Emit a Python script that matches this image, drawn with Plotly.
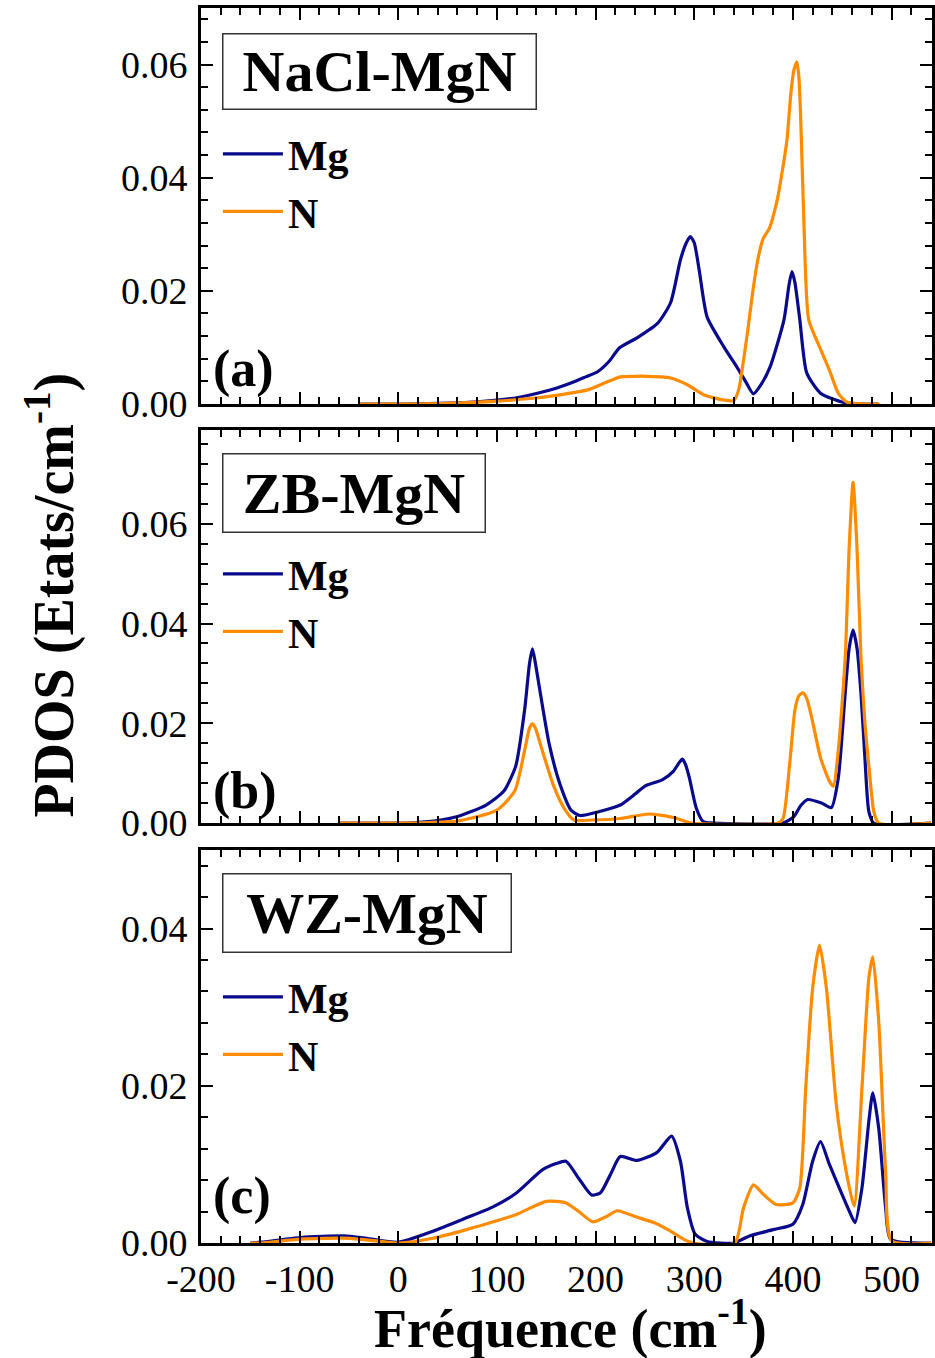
import plotly.graph_objects as go

# ---------------- data ----------------
# Panel (a) NaCl-MgN
a_mg_x = [-40, 0, 40, 80, 100, 120, 141, 160, 175, 190, 202, 214, 224, 242, 263, 276, 286, 292, 296, 300, 305, 313, 330, 343, 352, 360, 368, 377, 391, 396, 399, 402, 407, 414, 428, 451, 470, 487]
a_mg_y = [0, 0, 0.0001, 0.0004, 0.0007, 0.0011, 0.0019, 0.0028, 0.0037, 0.0048, 0.0057, 0.0076, 0.0099, 0.0117, 0.0143, 0.0179, 0.0255, 0.0285, 0.0296, 0.0285, 0.0237, 0.0154, 0.0101, 0.0066, 0.0040, 0.0018, 0.0035, 0.0066, 0.0149, 0.0210, 0.0234, 0.0215, 0.0149, 0.0055, 0.0019, 0.0003, 0, 0]
a_n_x = [-40, 0, 50, 100, 141, 170, 192, 209, 225, 240, 252, 265, 276, 293, 310, 330, 340, 345, 350, 355, 360, 365, 370, 376, 384, 390, 394, 398, 401, 404, 406, 408, 411, 416, 427, 437, 446, 455, 470, 488]
a_n_y = [0, 0, 0.0001, 0.0005, 0.0011, 0.0018, 0.0025, 0.0037, 0.0048, 0.0049, 0.0049, 0.0048, 0.0046, 0.0034, 0.0016, 0.0007, 0.0006, 0.0025, 0.0078, 0.0140, 0.0207, 0.0260, 0.0293, 0.0310, 0.0360, 0.0420, 0.0467, 0.0550, 0.0590, 0.0605, 0.0580, 0.0500, 0.0330, 0.0149, 0.0101, 0.0060, 0.0019, 0.0003, 0, 0]

# Panel (b) ZB-MgN
b_mg_x = [-60, 0, 17, 40, 60, 89, 107, 119, 128, 133, 136, 139, 144, 153, 164, 175, 184, 204, 225, 240, 250, 268, 279, 285, 288, 291, 295, 302, 309, 320, 390, 401, 408, 415, 429, 439, 446, 453, 457, 461, 465, 469, 473, 477, 482, 540]
b_mg_y = [0, 0, 0.0001, 0.0005, 0.0013, 0.0036, 0.0064, 0.0114, 0.0226, 0.0320, 0.0349, 0.0320, 0.0260, 0.0158, 0.0077, 0.0026, 0.0015, 0.0023, 0.0036, 0.0058, 0.0074, 0.0087, 0.0104, 0.0122, 0.0128, 0.0118, 0.0091, 0.0030, 0.0003, 0, 0, 0.0013, 0.0035, 0.0047, 0.0040, 0.0031, 0.0090, 0.0260, 0.0350, 0.0387, 0.0350, 0.0260, 0.0130, 0.0023, 0, 0]
b_n_x = [-60, 0, 30, 60, 100, 118, 128, 133, 136, 139, 146, 157, 168, 178, 196, 225, 254, 279, 290, 297, 385, 390, 397, 402, 406, 410, 414, 419, 428, 437, 441, 446, 453, 457, 461, 465, 469, 473, 477, 482, 487, 540]
b_n_y = [0, 0, 0.0001, 0.0004, 0.0026, 0.0064, 0.0145, 0.0190, 0.0199, 0.0190, 0.0145, 0.0077, 0.0030, 0.0006, 0.0006, 0.0009, 0.0018, 0.0011, 0.0004, 0, 0, 0.0009, 0.0124, 0.0226, 0.0255, 0.0261, 0.0250, 0.0212, 0.0131, 0.0084, 0.0074, 0.0145, 0.0330, 0.0550, 0.0683, 0.0550, 0.0330, 0.0200, 0.0115, 0.0023, 0, 0]

# Panel (c) WZ-MgN
c_mg_x = [-150, -139, -99, -55, -32, 0, 35, 69, 96, 119, 146, 160, 170, 183, 196, 205, 215, 225, 242, 262, 277, 286, 293, 301, 313, 340, 356, 380, 400, 410, 420, 428, 437, 447, 457, 463, 470, 477, 481, 487, 494, 499, 540]
c_mg_y = [0, 0.0001, 0.0007, 0.0009, 0.0006, 0.0001, 0.0015, 0.0032, 0.0046, 0.0063, 0.0093, 0.0101, 0.0104, 0.0082, 0.0061, 0.0064, 0.0087, 0.0110, 0.0105, 0.0115, 0.0136, 0.0104, 0.0045, 0.0011, 0.0002, 0, 0.0009, 0.0017, 0.0024, 0.0049, 0.0104, 0.0129, 0.0100, 0.0070, 0.0041, 0.0026, 0.0070, 0.0155, 0.0191, 0.0146, 0.0045, 0.0005, 0]
c_n_x = [-150, -139, -99, -49, 0, 35, 69, 119, 150, 170, 183, 197, 210, 222, 239, 259, 276, 289, 299, 341, 350, 360, 370, 383, 400, 407, 413, 420, 427, 434, 444, 454, 462, 470, 477, 481, 487, 494, 500, 540]
c_n_y = [0, 0, 0.0005, 0.0006, 0, 0.0006, 0.0017, 0.0036, 0.0053, 0.0051, 0.0040, 0.0027, 0.0033, 0.0041, 0.0034, 0.0026, 0.0015, 0.0005, 0, 0, 0.0045, 0.0074, 0.0062, 0.0049, 0.0051, 0.0070, 0.0197, 0.0324, 0.0379, 0.0324, 0.0176, 0.0091, 0.0047, 0.0197, 0.0337, 0.0364, 0.0282, 0.0091, 0.0003, 0]

panel_titles = ["NaCl-MgN", "ZB-MgN", "WZ-MgN"]
panel_labels = ["(a)", "(b)", "(c)"]
series_names = ["Mg", "N"]
y_ranges = [[0, 0.07], [0, 0.0788], [0, 0.05]]
x_range = [-200, 541]
x_tickvals = [-200, -100, 0, 100, 200, 300, 400, 500]
x_ticktext = ["-200", "-100", "0", "100", "200", "300", "400", "500"]

# ---------------- styling ----------------
MG_COLOR = "#0a0a8c"
N_COLOR = "#ff8c00"
FONT = "Liberation Serif"
W, H = 935, 1358
ML, MR, MT, MB = 201, 0, 8, 115
PW, PH = W - ML - MR, H - MT - MB

def px2x(px):
    return (px - ML) / PW

def py2y(py):
    return (H - MB - py) / PH

# panel pixel extents (top, bottom)
panels_px = [(8, 404), (430, 823), (850, 1243)]
domains = [[py2y(b), py2y(t)] for t, b in panels_px]

data = [
    (a_mg_x, a_mg_y, a_n_x, a_n_y),
    (b_mg_x, b_mg_y, b_n_x, b_n_y),
    (c_mg_x, c_mg_y, c_n_x, c_n_y),
]

fig = go.Figure()
legend_ids = ["legend", "legend2", "legend3"]
for i, (mx, my, nx, ny) in enumerate(data):
    xa = "x" if i == 0 else f"x{i+1}"
    ya = "y" if i == 0 else f"y{i+1}"
    fig.add_trace(go.Scatter(x=mx, y=my, mode="lines", name="<b>" + series_names[0] + "</b>",
                             line=dict(color=MG_COLOR, width=3.2, shape="spline", smoothing=0.6),
                             xaxis=xa, yaxis=ya, legend=legend_ids[i]))
    fig.add_trace(go.Scatter(x=nx, y=ny, mode="lines", name="<b>" + series_names[1] + "</b>",
                             line=dict(color=N_COLOR, width=3.2, shape="spline", smoothing=0.6),
                             xaxis=xa, yaxis=ya, legend=legend_ids[i]))

tickfont = dict(family=FONT, size=38, color="black")
common_axis = dict(showline=True, linewidth=3, linecolor="black", mirror="allticks",
                   ticks="inside", ticklen=12, tickwidth=2, tickcolor="black",
                   showgrid=False, zeroline=False, tickfont=tickfont)

layout = dict(
    width=W, height=H,
    margin=dict(l=ML, r=MR, t=MT, b=MB),
    paper_bgcolor="white", plot_bgcolor="white",
    showlegend=True,
)
for i in range(3):
    xk = "xaxis" if i == 0 else f"xaxis{i+1}"
    yk = "yaxis" if i == 0 else f"yaxis{i+1}"
    ya = "y" if i == 0 else f"y{i+1}"
    xa = "x" if i == 0 else f"x{i+1}"
    layout[xk] = dict(common_axis, range=x_range, tickvals=x_tickvals, ticktext=x_ticktext, anchor=ya,
                      showticklabels=(i == 2), domain=[0, 1],
                      minor=dict(ticks="inside", ticklen=7, tickwidth=2, tickcolor="black", dtick=20, tick0=0))
    layout[yk] = dict(common_axis, range=y_ranges[i], dtick=0.02, tick0=0, tickformat=".2f",
                      anchor=xa, domain=domains[i], ticklabelstandoff=3,
                      minor=dict(ticks="inside", ticklen=7, tickwidth=2, tickcolor="black", dtick=0.004, tick0=0))
fig.update_layout(**layout)

# legends
legend_mid_py = [183, 603, 1026]
for i, lid in enumerate(legend_ids):
    fig.update_layout({lid: dict(x=px2x(218), y=py2y(legend_mid_py[i]), xanchor="left", yanchor="middle",
                                 bgcolor="rgba(0,0,0,0)", borderwidth=0, itemwidth=60,
                                 font=dict(family=FONT, size=42, color="black"),
                                 tracegroupgap=0)})

annotations = []
# title boxes
box_px = [(222, 33, 312, 74), (222, 453, 261, 77), (222, 873, 287, 77)]
for i, (bx, by, bw, bh) in enumerate(box_px):
    annotations.append(dict(text="<b>" + panel_titles[i] + "</b>", xref="paper", yref="paper",
                            x=px2x(bx), y=py2y(by), xanchor="left", yanchor="top",
                            width=bw, height=bh, showarrow=False, align="center", valign="middle",
                            bordercolor="#333333", borderwidth=1.5, borderpad=0, bgcolor="white",
                            font=dict(family=FONT, size=58, color="black")))
# panel labels
label_px = [(211, 369), (211, 791), (211, 1196)]
for i, (lx, ly) in enumerate(label_px):
    annotations.append(dict(text="<b>" + panel_labels[i] + "</b>", xref="paper", yref="paper",
                            x=px2x(lx), y=py2y(ly), xanchor="left", yanchor="middle",
                            showarrow=False, font=dict(family=FONT, size=52, color="black")))
# axis titles
annotations.append(dict(text="<b>PDOS (Etats/cm<sup>-1</sup>)</b>", xref="paper", yref="paper",
                        x=px2x(50), y=py2y(595), xanchor="center", yanchor="middle", textangle=-90,
                        showarrow=False, font=dict(family=FONT, size=56, color="black")))
annotations.append(dict(text="<b>Fréquence (cm<sup>-1</sup>)</b>", xref="paper", yref="paper",
                        x=px2x(572), y=py2y(1324), xanchor="center", yanchor="middle",
                        showarrow=False, font=dict(family=FONT, size=54, color="black")))
fig.update_layout(annotations=annotations)

fig.write_html("out.html", config={"displayModeBar": False},
               post_script="document.body.style.margin='0';document.body.style.overflow='hidden';")
